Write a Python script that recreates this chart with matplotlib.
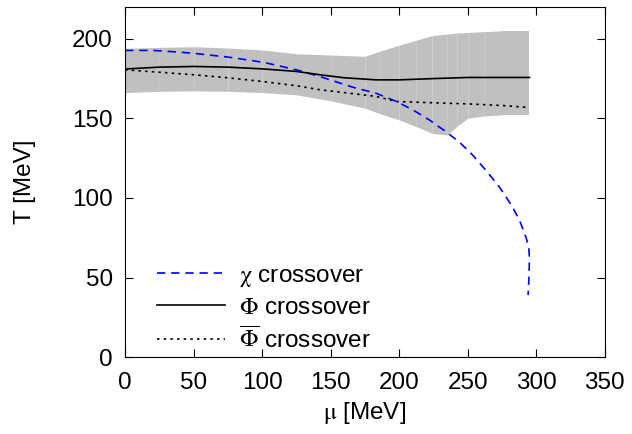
import matplotlib
matplotlib.use("Agg")
import matplotlib.pyplot as plt
import numpy as np

plt.rcParams['font.family'] = ['Liberation Sans', 'DejaVu Sans']
plt.rcParams['mathtext.fontset'] = 'stix'

# band (uncertainty region)
band_mu = [0, 25, 50, 75, 100, 125, 150, 175, 185, 200, 212, 224, 235, 242, 250, 262, 275, 285, 295]
band_hi = [194, 194.6, 195, 194.2, 193, 190.6, 189.8, 189, 192, 196, 199, 202, 203, 203.6, 204, 204.5, 205, 205, 205]
band_lo = [166.2, 167, 167.3, 167, 166.2, 164.8, 161, 156.4, 153.2, 149, 145, 140.6, 139.6, 145, 150.1, 151.5, 152.2, 152.2, 152.2]

# Phi crossover
phi_mu = [0, 25, 50, 75, 100, 125, 142, 160, 183, 200, 225, 250, 275, 295]
phi_T = [181, 182.2, 182.6, 182.2, 181.1, 179.5, 177.4, 175.5, 174.2, 174.2, 175.0, 175.7, 175.7, 175.7]

# Phi-bar crossover
phib_mu = [0, 25, 50, 75, 100, 125, 142, 160, 183, 198, 225, 250, 275, 292]
phib_T = [180.5, 179.0, 177.4, 175.5, 173.2, 170.5, 168, 166.2, 163.8, 160.6, 159.8, 159.1, 158.1, 157]

# chi crossover
chi_mu = [0, 20, 33, 50, 76, 101, 125, 142, 166, 183, 198, 210, 222, 234, 244, 253.5, 263, 273, 282.6, 288, 292.3, 294.5, 295, 294.8, 294.5, 294]
chi_T = [192.7, 192.7, 192, 190.9, 188.4, 185.2, 180.5, 176.3, 169.6, 165.8, 160.6, 155.3, 149, 141.7, 135.0, 127, 117.6, 107, 94.5, 85.5, 75.7, 69.4, 62, 55, 47, 39]

fig = plt.figure(figsize=(6.32, 4.34), dpi=100)
ax = fig.add_axes([0.198, 0.177, 0.759, 0.807])

for i in range(len(band_mu) - 1):
    ax.fill_between(band_mu[i:i + 2], band_lo[i:i + 2], band_hi[i:i + 2],
                    color='#c0c0c0', linewidth=0, zorder=1)

ax.plot(chi_mu, chi_T, color='#0000ff', linestyle=(0, (5, 3.5)), linewidth=1.2,
        label=r'$\mathrm{\chi}$ crossover', zorder=3)
ax.plot(phi_mu, phi_T, color='black', linestyle='-', linewidth=1.2,
        label=r'$\Phi$ crossover', zorder=3)
ax.plot(phib_mu, phib_T, color='black', linestyle=(0, (1.5, 2.5)), linewidth=1.2,
        label=r'$\overline{\Phi}$ crossover', zorder=3)

ax.set_xlim(0, 350)
ax.set_ylim(0, 220)
ax.set_xticks(np.arange(0, 351, 50))
ax.set_yticks(np.arange(0, 201, 50))
ax.tick_params(direction='in', top=True, right=True, length=6, labelsize=17.5)
ax.tick_params(axis='x', pad=11)
ax.tick_params(axis='y', pad=9)
ax.set_xlabel(r'$\mathrm{\mu}$ [MeV]', fontsize=17.5, labelpad=4)
ax.set_ylabel('T [MeV]', fontsize=17.5, labelpad=26)

leg = ax.legend(loc='lower left', bbox_to_anchor=(0.02, -0.05), frameon=False,
                fontsize=17.5, handlelength=2.8, labelspacing=0.33, handletextpad=0.6)

fig.savefig('out.png', dpi=100)
